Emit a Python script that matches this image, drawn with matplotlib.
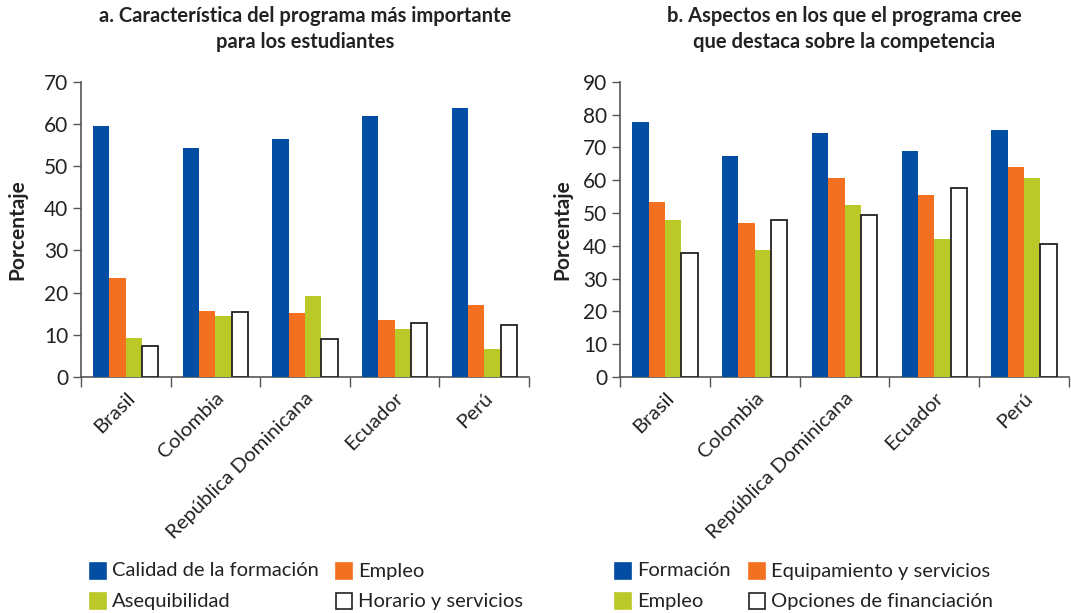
import matplotlib
matplotlib.use("Agg")
import matplotlib.pyplot as plt
import matplotlib.transforms as mtransforms
import numpy as np

plt.rcParams['font.family'] = ['Lato', 'DejaVu Sans']

categories = ["Brasil", "Colombia", "República Dominicana", "Ecuador", "Perú"]

# Panel a
title_a = "a. Característica del programa más importante\npara los estudiantes"
series_a_names = ["Calidad de la formación", "Empleo", "Asequibilidad", "Horario y servicios"]
calidad = [59.6, 54.4, 56.4, 61.9, 63.8]
empleo_a = [23.4, 15.6, 15.2, 13.6, 17.0]
asequibilidad = [9.3, 14.5, 19.1, 11.3, 6.6]
horario = [7.4, 15.3, 8.9, 12.9, 12.4]
yticks_a = [0, 10, 20, 30, 40, 50, 60, 70]

# Panel b
title_b = "b. Aspectos en los que el programa cree\nque destaca sobre la competencia"
series_b_names = ["Formación", "Equipamiento y servicios", "Empleo", "Opciones de financiación"]
formacion = [77.8, 67.5, 74.5, 68.8, 75.4]
equipamiento = [53.2, 46.8, 60.6, 55.5, 63.9]
empleo_b = [47.9, 38.8, 52.4, 42.1, 60.6]
financiacion = [37.7, 47.8, 49.3, 57.7, 40.5]
yticks_b = [0, 10, 20, 30, 40, 50, 60, 70, 80, 90]

colors = ["#034EA2", "#F37021", "#BBC928", "#FFFFFF"]
edges = ["none", "none", "none", "#222222"]

W, H = 1071, 613
fig = plt.figure(figsize=(W / 100, H / 100), dpi=100)

def px_axes(x0, x1, ytop, ybot):
    return fig.add_axes([x0 / W, (H - ybot) / H, (x1 - x0) / W, (ybot - ytop) / H])

def draw(ax, series, names, yticks, title, legend_x, col2_x, ylabelpad):
    x = np.arange(len(categories))
    bw = 0.182
    n = len(series)
    for i, (vals, c, e) in enumerate(zip(series, colors, edges)):
        ax.bar(x + (i - (n - 1) / 2) * bw, vals, width=bw, color=c,
               edgecolor=e, linewidth=1.3 if e != "none" else 0, zorder=3)
    ax.set_xlim(-0.5, len(categories) - 0.5)
    ax.set_ylim(0, yticks[-1])
    ax.set_yticks(yticks)
    ax.tick_params(axis='y', labelsize=15, length=6, width=1, color="#555555",
                   labelcolor="#222222", pad=3)
    ax.set_xticks(x)
    ax.set_xticklabels(categories, rotation=45, ha='right', va='top',
                       rotation_mode='anchor', fontsize=14.7, color="#222222")
    offset = mtransforms.ScaledTranslation(6 / 100, 0, fig.dpi_scale_trans)
    for lab in ax.get_xticklabels():
        lab.set_transform(lab.get_transform() + offset)
    ax.tick_params(axis='x', length=0, pad=9)
    ax.set_xticks(np.arange(-0.5, len(categories), 1.0), minor=True)
    ax.tick_params(axis='x', which='minor', length=7, width=1, color="#555555")
    for s in ['top', 'right']:
        ax.spines[s].set_visible(False)
    for s in ['left', 'bottom']:
        ax.spines[s].set_color("#555555")
        ax.spines[s].set_linewidth(1.2)
    ax.set_ylabel("Porcentaje", fontsize=15, fontweight='bold', color="#222222",
                  labelpad=ylabelpad)
    ax.set_title(title, fontsize=14.5, fontweight='bold', color="#222222", pad=24,
                 linespacing=1.4)
    rows = [(0, 0), (1, 0), (0, 1), (1, 1)]
    for c, e, name, (col, row) in zip(colors, edges, names, rows):
        lx = legend_x if col == 0 else col2_x
        ly = 571 + row * 30
        fig.patches.append(plt.Rectangle((lx / W, (H - ly - 8) / H), 16 / W, 16 / H,
                                         transform=fig.transFigure, facecolor=c,
                                         edgecolor=(e if e != "none" else c), linewidth=1.2))
        fig.text((lx + 22) / W, (H - ly) / H, name, fontsize=14.5, color="#222222",
                 ha='left', va='center')

ax1 = px_axes(81, 529, 81.7, 377)
draw(ax1, [calidad, empleo_a, asequibilidad, horario], series_a_names, yticks_a,
     title_a, 90, 336, 12)
ax2 = px_axes(620, 1069, 81.7, 377)
draw(ax2, [formacion, equipamiento, empleo_b, financiacion], series_b_names, yticks_b,
     title_b, 615, 749, 8)

fig.savefig("out.png", dpi=100)
